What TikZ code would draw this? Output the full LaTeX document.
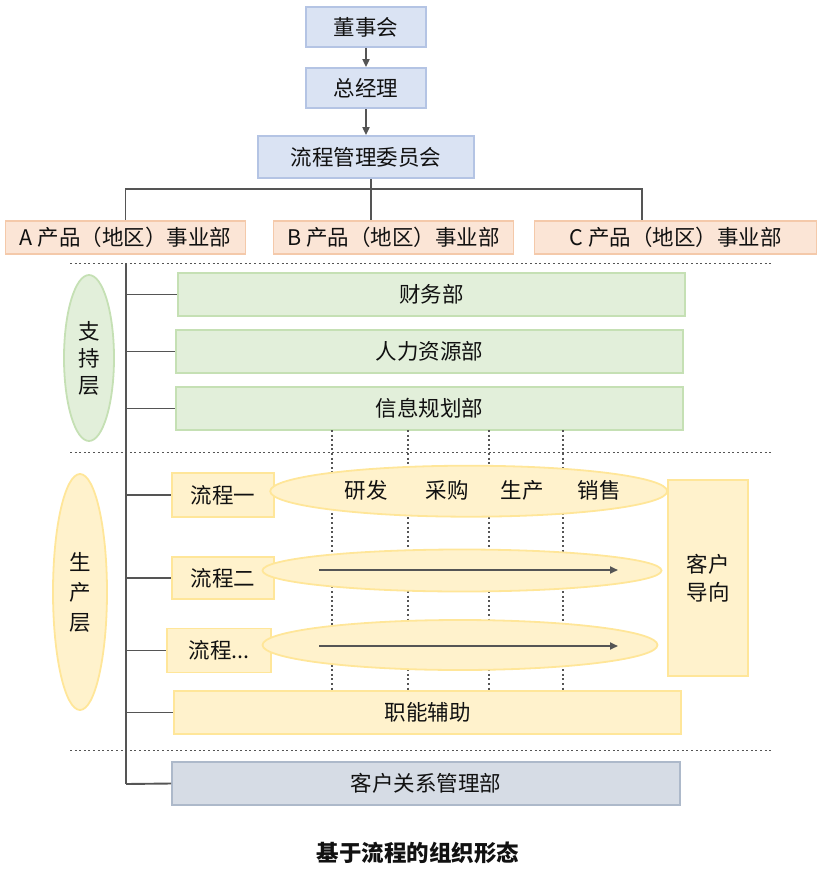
\documentclass[tikz,border=0pt]{standalone}
\usepackage{fontspec}
\setmainfont{Noto Sans CJK SC}
\usetikzlibrary{shapes.geometric,arrows.meta}

\definecolor{txt}{HTML}{111111}
\definecolor{lineg}{HTML}{555555}
\definecolor{bluef}{HTML}{DAE3F3}
\definecolor{blueb}{HTML}{B4C4E4}
\definecolor{peachf}{HTML}{FBE5D6}
\definecolor{peachb}{HTML}{F4C9AA}
\definecolor{greenf}{HTML}{E2EFDA}
\definecolor{greenb}{HTML}{C5E0B4}
\definecolor{yellowf}{HTML}{FFF2CC}
\definecolor{yellowb}{HTML}{FFE699}
\definecolor{grayf}{HTML}{D6DCE5}
\definecolor{grayb}{HTML}{ADB9CA}

\tikzset{
  box/.style={draw, line width=1.8pt, inner sep=0pt, text=txt,
    font=\fontsize{21.5}{27}\selectfont, align=center},
  bluebox/.style={box, fill=bluef, draw=blueb},
  peachbox/.style={box, fill=peachf, draw=peachb},
  greenbox/.style={box, fill=greenf, draw=greenb},
  yellowbox/.style={box, fill=yellowf, draw=yellowb},
  graybox/.style={box, fill=grayf, draw=grayb},
  layeroval/.style={box, ellipse},
  label/.style={inner sep=0pt, text=txt, font=\fontsize{21.5}{27}\selectfont},
  conn/.style={draw=lineg, line width=1.9pt},
  arr/.style={conn, -{Triangle[length=8pt,width=7pt]}},
  sep/.style={draw=lineg, line width=1.5pt, dash pattern=on 2pt off 2.6pt},
}

\begin{document}
\begin{tikzpicture}[x=1pt,y=-1pt]
\useasboundingbox (0,0) rectangle (830,872);

% top of the hierarchy
\node[bluebox, minimum width=120, minimum height=40] (board) at (366,27) {董事会};
\node[bluebox, minimum width=120, minimum height=40] (gm) at (366,88) {总经理};
\node[bluebox, minimum width=216, minimum height=42] (cmte) at (366,157) {流程管理委员会};
\draw[arr] (board) -- (gm);
\draw[arr] (gm) -- (cmte);

% business units
\node[peachbox, minimum width=240, minimum height=33] (A) at (125.5,237.5) {A 产品（地区）事业部};
\node[peachbox, minimum width=240, minimum height=33] (B) at (393.5,237.5) {B 产品（地区）事业部};
\node[peachbox, minimum width=282, minimum height=33] (C) at (675.5,237.5) {C 产品（地区）事业部};

\coordinate (busB) at (371,189);
\coordinate (busC) at (642,189);
\draw[conn] (busB |- cmte.south) -- (busB |- B.north);
\draw[conn] (A.north) |- (busC) -- (busC |- C.north);

% layer separators
\coordinate (s1l) at (70,263.3);  \coordinate (s1r) at (772,263.3);
\coordinate (s2l) at (70,452.7);  \coordinate (s2r) at (772,452.7);
\coordinate (s3l) at (70,750.7);  \coordinate (s3r) at (772,750.7);
\draw[sep] (s1l) -- (s1r);
\draw[sep] (s2l) -- (s2r);
\draw[sep] (s3l) -- (s3r);

% support layer
\node[layeroval, fill=greenf, draw=greenb, minimum width=50, minimum height=166] (sup) at (89,358)
  {支\\持\\层};
\node[greenbox, minimum width=507, minimum height=43] (fin) at (431.5,294.5) {财务部};
\node[greenbox, minimum width=507, minimum height=43] (hr) at (429.5,351.5) {人力资源部};
\node[greenbox, minimum width=507, minimum height=43] (info) at (429.5,408.5) {信息规划部};

% stage columns
\foreach \x/\n in {332/c1, 408/c2, 489/c3, 563/c4} {
  \coordinate (\n t) at (\x,430);
  \coordinate (\n b) at (\x,690);
  \draw[sep] (\n t) -- (\n b);
}

% production layer
\node[layeroval, fill=yellowf, draw=yellowb, minimum width=54, minimum height=236,
  font=\fontsize{21.5}{30}\selectfont] (prod) at (80,592) {生\\产\\层};
\node[yellowbox, minimum width=102, minimum height=44] (p1) at (223,495) {流程一};
\node[yellowbox, minimum width=102, minimum height=42] (p2) at (223,578) {流程二};
\node[yellowbox, minimum width=104, minimum height=44] (p3) at (219,650.5) {流程...};

\node[layeroval, fill=yellowf, draw=yellowb, minimum width=397, minimum height=51] (e1) at (468.7,491.2) {};
\node[layeroval, fill=yellowf, draw=yellowb, minimum width=399, minimum height=42] (e2) at (462,570.5) {};
\node[layeroval, fill=yellowf, draw=yellowb, minimum width=395, minimum height=50] (e3) at (460,645) {};

\node[label] (rd) at (366,490) {研发};
\node[label] (buy) at (447,490) {采购};
\node[label] (make) at (522,490) {生产};
\node[label] (sell) at (599,490) {销售};

\coordinate (a2s) at (319,570);  \coordinate (a2e) at (618,570);
\coordinate (a3s) at (319,646);  \coordinate (a3e) at (618,646);
\draw[arr] (a2s) -- (a2e);
\draw[arr] (a3s) -- (a3e);

\node[yellowbox, minimum width=80, minimum height=196, font=\fontsize{21.5}{28}\selectfont] (cust) at (708,578)
  {客户\\导向};
\node[yellowbox, minimum width=507, minimum height=43] (aux) at (427.5,712.5) {职能辅助};

% customer relations
\node[graybox, minimum width=508, minimum height=43] (crm) at (426,783.5) {客户关系管理部};

% trunk line and branches
\coordinate (trt) at (126,263.3);
\coordinate (trb) at (126,784);
\draw[conn] (trt) -- (trb);
\foreach \n in {fin, hr, info, p1, p2, p3, aux}
  \draw[conn] (trt |- \n.west) -- (\n.west);
\draw[conn] (trb) -- (crm.west);

% caption
\node[label, font=\fontsize{22.5}{26}\selectfont\bfseries] (title) at (418,853) {基于流程的组织形态};
\end{tikzpicture}
\end{document}
